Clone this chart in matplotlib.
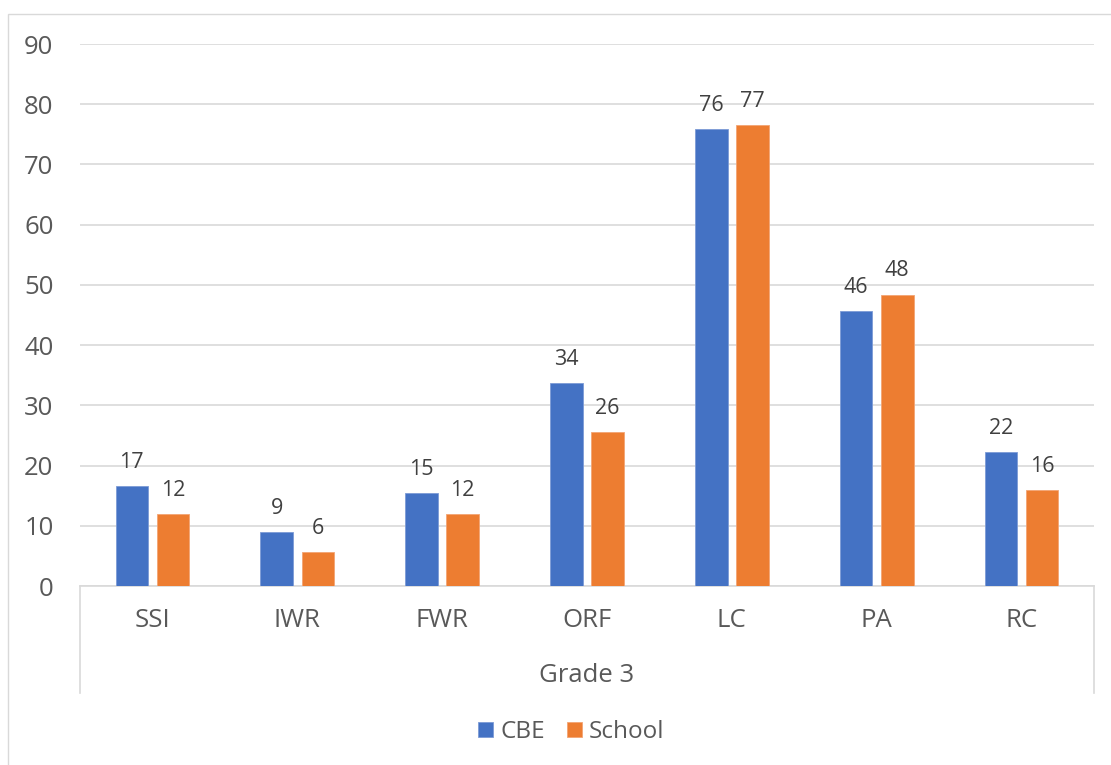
import matplotlib
matplotlib.use("Agg")
import matplotlib.pyplot as plt
from matplotlib.patches import Rectangle
import numpy as np

# Grade 3 results by skill area
categories = ["SSI", "IWR", "FWR", "ORF", "LC", "PA", "RC"]
cbe = [16.6, 8.9, 15.4, 33.7, 75.9, 45.6, 22.2]
school = [12.0, 5.7, 11.9, 25.6, 76.6, 48.4, 15.9]
series_names = ["CBE", "School"]
group_label = "Grade 3"
y_ticks = [0, 10, 20, 30, 40, 50, 60, 70, 80, 90]

BLUE = "#4472C4"
ORANGE = "#ED7D31"
GRID = "#D9D9D9"
TICK_TXT = "#595959"
LABEL_TXT = "#404040"

plt.rcParams["font.family"] = ["Open Sans", "DejaVu Sans"]

W, H = 1111, 765
fig = plt.figure(figsize=(W / 100, H / 100), dpi=100)
ax = fig.add_axes([80 / W, 1 - 586 / H, (1094 - 80) / W, (586 - 44) / H])

x = np.arange(len(categories))
bw = 0.225
off = 0.142
b1 = ax.bar(x - off, cbe, bw, color=BLUE, edgecolor="#7C9BD6", linewidth=0.6, zorder=3)
b2 = ax.bar(x + off, school, bw, color=ORANGE, edgecolor="#F3A474", linewidth=0.6, zorder=3)

for bars, vals in ((b1, cbe), (b2, school)):
    for rect, v in zip(bars, vals):
        ax.annotate(f"{v:.0f}", (rect.get_x() + rect.get_width() / 2, v),
                    xytext=(0, 13), textcoords="offset points",
                    ha="center", va="baseline", fontsize=15.5, color=LABEL_TXT)

ax.set_xlim(-0.5, len(categories) - 0.5)
ax.set_ylim(0, 90)
ax.set_yticks(y_ticks)
ax.yaxis.grid(True, color=GRID, linewidth=1.2, zorder=0)
ax.set_axisbelow(True)
for s in ax.spines.values():
    s.set_visible(False)
ax.tick_params(axis="y", length=0, pad=19, labelsize=18.5, labelcolor=TICK_TXT)
ax.set_xticks(x)
ax.set_xticklabels(categories)
ax.tick_params(axis="x", length=0, pad=16, labelsize=18.5, labelcolor=TICK_TXT)

# multi-level category box below the plot
box_bottom = -107 / 542
for xa in (0, 1):
    ax.plot([xa, xa], [0, box_bottom], transform=ax.transAxes, color=GRID,
            linewidth=1.2, clip_on=False, zorder=1)
ax.plot([0, 1], [0, 0], transform=ax.transAxes, color=GRID, linewidth=1.2,
        clip_on=False, zorder=1)
ax.text(0.5, -90 / 542, group_label, transform=ax.transAxes, ha="center",
        va="center", fontsize=18.5, color=TICK_TXT)

# chart frame
fig.patches.append(Rectangle((8 / W, -0.05), 1.2, 1.05 - 14 / H,
                             transform=fig.transFigure, fill=False,
                             edgecolor=GRID, linewidth=1.0))

fig.legend([b1, b2], series_names, loc="center", bbox_to_anchor=(571 / W, 1 - 732 / H),
           ncol=2, frameon=False, fontsize=17.5, labelcolor=TICK_TXT,
           handlelength=0.62, handleheight=0.62, handletextpad=0.3,
           columnspacing=0.9, borderpad=0)

fig.savefig("out.png", dpi=100)
